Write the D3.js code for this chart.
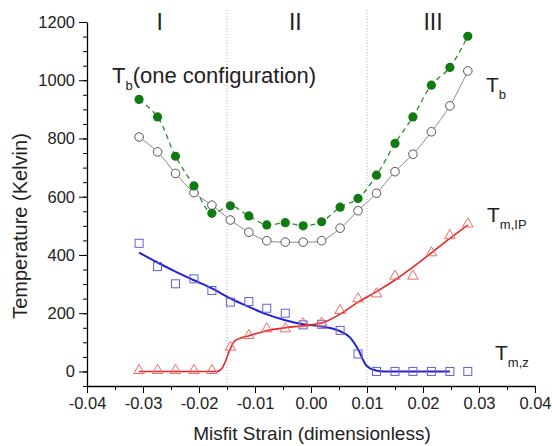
<!DOCTYPE html>
<html>
<head>
<meta charset="utf-8">
<script src="https://cdn.jsdelivr.net/npm/d3@7"></script>
<style>
  body { margin: 0; background: #fff; }
  svg { font-family: "Liberation Sans", Arial, sans-serif; }
</style>
</head>
<body>
<div id="chart"></div>
<script>
// ---- DATA ----
var strain = [-0.0307,-0.0274,-0.0242,-0.0209,-0.0177,-0.0144,-0.0111,-0.0079,-0.0046,-0.0014,
              0.0019,0.0052,0.0084,0.0117,0.0150,0.0182,0.0215,0.0248,0.0280];
var tb     = [805,754,680,614,571,520,478,449,444,444,449,492,552,612,686,746,823,912,1032];
var tbOne  = [934,874,739,637,543,569,534,503,511,500,514,564,594,674,783,874,983,1044,1151];
var tmz    = [440,360,301,318,278,238,240,217,200,160,162,141,60,0,0,0,0,0,0];
var tmip   = [0,0,0,0,0,80,120,143,143,160,163,206,246,263,324,324,404,463,503];

// fitted curves (read points)
var fitZx = [-0.0307,-0.0275,-0.0242,-0.0210,-0.0177,-0.0145,-0.0111,-0.0079,-0.0046,-0.0014,
             0.0019,0.0052,0.0070,0.0084,0.0099,0.0116,0.0130,0.0248];
var fitZy = [408,375,343,314,285,252,222,196,176,162,154,138,116,76,20,3,0,0];
var fitIPx = [-0.0307,-0.0169,-0.0160,-0.0154,-0.0145,-0.0136,-0.0125,-0.0112,-0.0079,-0.0046,
              -0.0014,0.0019,0.0052,0.0084,0.0117,0.0150,0.0182,0.0215,0.0248,0.0280];
var fitIPy = [0,0,8,29,74,105,115,122,140,150,157,166,197,238,274,314,358,407,457,503];

var xTicks = [-0.04,-0.03,-0.02,-0.01,0.00,0.01,0.02,0.03,0.04];
var yTicks = [0,200,400,600,800,1000,1200];
var regionBounds = [-0.015, 0.010];
var regionNames = ["I","II","III"];
var regionX = [-0.0270,-0.0028,0.0218];

// ---- SETUP ----
var W = 552, H = 446;
var svg = d3.select("#chart").append("svg").attr("width", W).attr("height", H);

var x = d3.scaleLinear().domain([-0.04, 0.04]).range([87, 535]);
var y = d3.scaleLinear().domain([-50, 1200]).range([386, 22]);

// axes: major + minor ticks
var xMinor = d3.range(-0.04, 0.0401, 0.005);
var yMinor = d3.range(-50, 1201, 50);

svg.append("g").attr("transform", "translate(0,386)")
  .call(d3.axisBottom(x).tickValues(xMinor).tickFormat("").tickSize(4).tickSizeOuter(0))
  .call(function(g){ g.select(".domain").remove(); });
svg.append("g").attr("transform", "translate(0,386)")
  .call(d3.axisBottom(x).tickValues(xTicks).tickFormat(function(d){ return d.toFixed(2); })
        .tickSize(7).tickSizeOuter(0).tickPadding(4))
  .call(function(g){
    g.select(".domain").attr("stroke-width", 1.3);
    g.selectAll("text").attr("font-size", 16.5).attr("fill", "#222");
  });

svg.append("g").attr("transform", "translate(87,0)")
  .call(d3.axisLeft(y).tickValues(yMinor).tickFormat("").tickSize(4).tickSizeOuter(0))
  .call(function(g){ g.select(".domain").remove(); });
svg.append("g").attr("transform", "translate(87,0)")
  .call(d3.axisLeft(y).tickValues(yTicks).tickFormat(d3.format("d"))
        .tickSize(8).tickSizeOuter(0).tickPadding(4))
  .call(function(g){
    g.select(".domain").attr("stroke-width", 1.3);
    g.selectAll("text").attr("font-size", 16.5).attr("fill", "#222");
  });

// axis titles
svg.append("text").attr("x", 312).attr("y", 440).attr("text-anchor", "middle")
  .attr("font-size", 19).attr("fill", "#222").text("Misfit Strain (dimensionless)");
svg.append("text").attr("transform", "translate(27,226) rotate(-90)").attr("text-anchor", "middle")
  .attr("font-size", 20).attr("fill", "#222").text("Temperature (Kelvin)");

// region boundaries
svg.selectAll(".bound").data(regionBounds).enter().append("line")
  .attr("x1", function(d){ return x(d); }).attr("x2", function(d){ return x(d); })
  .attr("y1", 10).attr("y2", 386)
  .attr("stroke", "#999").attr("stroke-width", 0.8).attr("stroke-dasharray", "1,2");

svg.selectAll(".region").data(regionNames).enter().append("text")
  .attr("x", function(d, i){ return x(regionX[i]); }).attr("y", 30)
  .attr("text-anchor", "middle").attr("font-size", 23).attr("fill", "#222")
  .text(function(d){ return d; });

// ---- LINES ----
function pts(xs, ys){ return xs.map(function(v, i){ return [v, ys[i]]; }); }
var line = d3.line().x(function(d){ return x(d[0]); }).y(function(d){ return y(d[1]); });

svg.append("path").datum(pts(strain, tb))
  .attr("d", line.curve(d3.curveCatmullRom)).attr("fill", "none")
  .attr("stroke", "#8a8a8a").attr("stroke-width", 1);
svg.append("path").datum(pts(strain, tbOne))
  .attr("d", line.curve(d3.curveCatmullRom)).attr("fill", "none")
  .attr("stroke", "#2e8b2e").attr("stroke-width", 1.3).attr("stroke-dasharray", "5,4");
svg.append("path").datum(pts(fitZx, fitZy))
  .attr("d", line.curve(d3.curveMonotoneX)).attr("fill", "none")
  .attr("stroke", "#2323d0").attr("stroke-width", 2);
svg.append("path").datum(pts(fitIPx, fitIPy))
  .attr("d", line.curve(d3.curveMonotoneX)).attr("fill", "none")
  .attr("stroke", "#e8262a").attr("stroke-width", 1.6);

// ---- MARKERS ----
svg.selectAll(".sq").data(pts(strain, tmz)).enter().append("rect")
  .attr("x", function(d){ return x(d[0]) - 4; }).attr("y", function(d){ return y(d[1]) - 4; })
  .attr("width", 8).attr("height", 8)
  .attr("fill", "none").attr("stroke", "#6060d8").attr("stroke-width", 1);

var tri = d3.symbol().type(d3.symbolTriangle).size(48);
svg.selectAll(".tri").data(pts(strain, tmip)).enter().append("path")
  .attr("d", tri)
  .attr("transform", function(d){ return "translate(" + x(d[0]) + "," + (y(d[1]) - 1) + ")"; })
  .attr("fill", "none").attr("stroke", "#f06a6a").attr("stroke-width", 1);

svg.selectAll(".oc").data(pts(strain, tb)).enter().append("circle")
  .attr("cx", function(d){ return x(d[0]); }).attr("cy", function(d){ return y(d[1]); })
  .attr("r", 4.3).attr("fill", "#fff").attr("stroke", "#555").attr("stroke-width", 1);

svg.selectAll(".fc").data(pts(strain, tbOne)).enter().append("circle")
  .attr("cx", function(d){ return x(d[0]); }).attr("cy", function(d){ return y(d[1]); })
  .attr("r", 4.6).attr("fill", "#127a12");

// ---- LABELS ----
function subLabel(xp, yp, main, sub, size){
  var t = svg.append("text").attr("x", xp).attr("y", yp).attr("font-size", size).attr("fill", "#222");
  t.append("tspan").text(main);
  t.append("tspan").attr("dy", 7).attr("font-size", 13).text(sub);
  return t;
}
var t1 = subLabel(112, 83, "T", "b", 22);
t1.append("tspan").attr("dy", -7).text("(one configuration)");
subLabel(486, 92, "T", "b", 21);
subLabel(487, 222, "T", "m,IP", 21);
subLabel(495, 360, "T", "m,z", 21);
</script>
</body>
</html>
